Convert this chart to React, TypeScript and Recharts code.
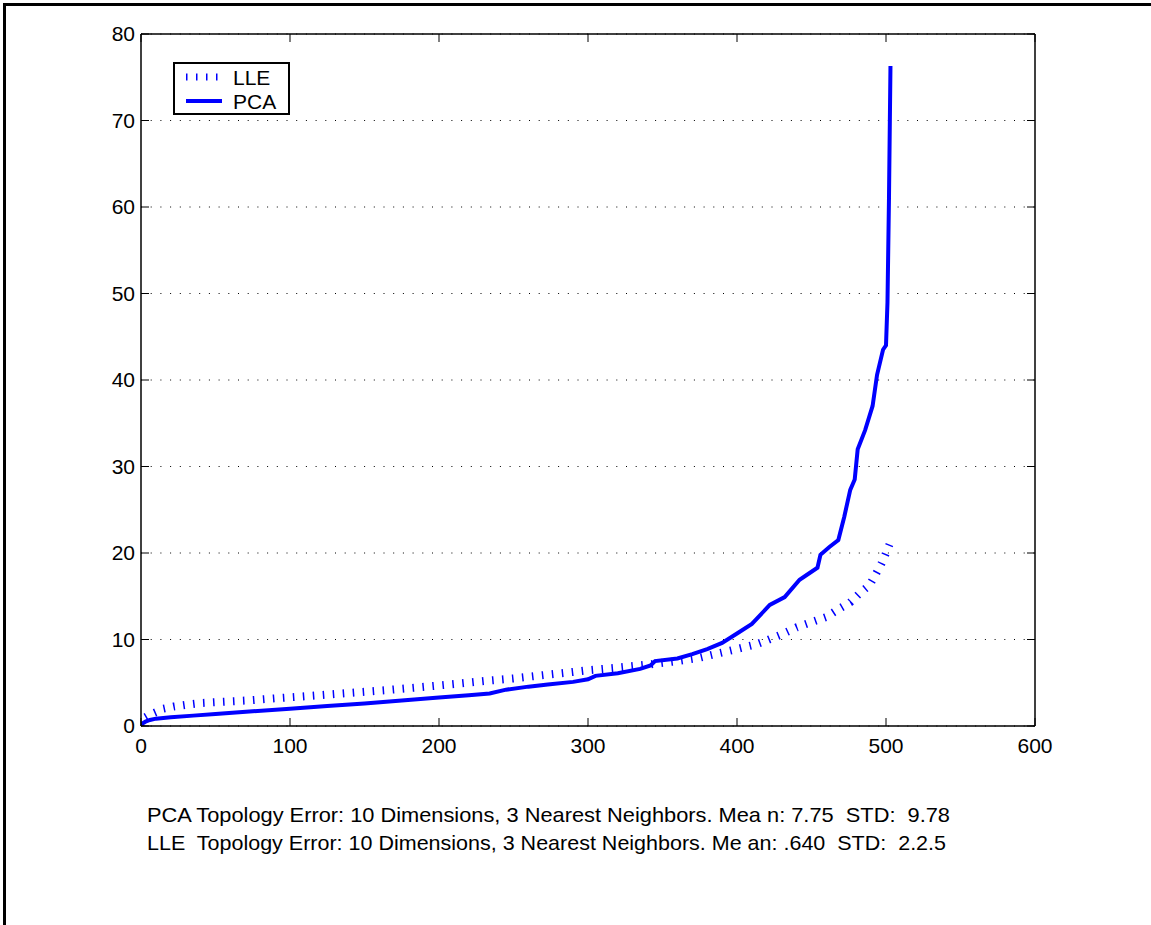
import React from "react";
import { LineChart, Line, XAxis, YAxis, CartesianGrid } from "recharts";

// sorted topology error per sample, PCA vs LLE embedding
const pcaX = [0, 1, 3, 6, 10, 20, 35, 50, 75, 100, 125, 150, 175, 200, 220, 234, 245, 260, 273, 290, 300, 305, 320, 335, 342, 345, 360, 370, 380, 390, 400, 410, 422, 432, 442, 448, 454, 456, 462, 468, 472, 476, 479, 481, 486, 491, 494, 498, 500, 501, 502, 503];
const pcaY = [0, 0.3, 0.5, 0.7, 0.85, 1.0, 1.2, 1.4, 1.7, 2.0, 2.3, 2.6, 2.95, 3.3, 3.55, 3.75, 4.2, 4.55, 4.8, 5.1, 5.4, 5.8, 6.1, 6.6, 7.0, 7.5, 7.8, 8.3, 8.9, 9.6, 10.7, 11.8, 14.0, 14.9, 16.9, 17.6, 18.3, 19.8, 20.7, 21.5, 24.2, 27.3, 28.5, 32.0, 34.2, 37.0, 40.6, 43.5, 44.0, 49.0, 61.0, 76.3];

const lleX = [0, 1, 3, 6, 10, 15, 22, 30, 40, 55, 71, 90, 103, 130, 165, 185, 210, 230, 250, 271, 290, 300, 320, 340, 360, 375, 390, 400, 412, 420, 430, 440, 450, 460, 468, 476, 482, 489, 493, 497, 500, 504];
const lleY = [0, 0.6, 1.0, 1.3, 1.6, 2.0, 2.25, 2.45, 2.65, 2.8, 2.95, 3.2, 3.35, 3.7, 4.15, 4.45, 4.85, 5.2, 5.5, 5.9, 6.25, 6.45, 6.75, 7.1, 7.5, 7.9, 8.5, 8.9, 9.4, 9.9, 10.6, 11.4, 12.0, 12.6, 13.5, 14.3, 15.3, 16.3, 17.5, 18.8, 20.0, 21.7];

const xTicks = [0, 100, 200, 300, 400, 500, 600];
const yTicks = [0, 10, 20, 30, 40, 50, 60, 70, 80];

const captionLines = [
  "PCA Topology Error: 10 Dimensions, 3 Nearest Neighbors. Mea n: 7.75  STD:  9.78",
  "LLE  Topology Error: 10 Dimensions, 3 Nearest Neighbors. Me an: .640  STD:  2.2.5",
];

const pcaData = pcaX.map((x, i) => ({ x, y: pcaY[i] }));
const lleData = lleX.map((x, i) => ({ x, y: lleY[i] }));

const BLUE = "#0000ff";
const FONT = "'Liberation Sans', Arial, Helvetica, sans-serif";
const axisStyle = { stroke: "#000", strokeWidth: 1.5 };

function LegendBox() {
  return (
    <div
      style={{
        position: "absolute",
        left: 173,
        top: 62,
        width: 113,
        height: 49,
        border: "2px solid #000",
        background: "#fff",
      }}
    >
      <svg width={113} height={49} style={{ position: "absolute", left: 0, top: 0 }}>
        <line x1={11} x2={49} y1={13} y2={13} stroke={BLUE} strokeWidth={7} strokeDasharray="1.5 8.5" />
        <line x1={11} x2={47} y1={37} y2={37} stroke={BLUE} strokeWidth={4} />
        <text x={58} y={21} fontSize={21} fontFamily={FONT} fill="#000">LLE</text>
        <text x={58} y={45} fontSize={21} fontFamily={FONT} fill="#000">PCA</text>
      </svg>
    </div>
  );
}

export default function App() {
  return (
    <div style={{ position: "absolute", left: 0, top: 0, width: 1151, height: 925, background: "#fff", overflow: "hidden" }}>
      {/* outer frame, top and left edges */}
      <div style={{ position: "absolute", left: 3, top: 3, width: 1148, height: 3, background: "#000" }} />
      <div style={{ position: "absolute", left: 3, top: 3, width: 3, height: 922, background: "#000" }} />

      <LineChart
        width={1151}
        height={925}
        margin={{ top: 24, right: 106, bottom: 159, left: 81 }}
        style={{ position: "absolute", left: 0, top: 0, fontFamily: FONT }}
      >
        <CartesianGrid vertical={false} stroke="#000" strokeWidth={1} strokeDasharray="1 8.7" />
        <XAxis
          type="number"
          dataKey="x"
          domain={[0, 600]}
          ticks={xTicks}
          height={40}
          tickSize={-8}
          tickMargin={20}
          axisLine={axisStyle}
          tickLine={{ stroke: "#000", strokeWidth: 1 }}
          tick={{ fill: "#000", fontSize: 21 }}
          allowDataOverflow
        />
        <XAxis
          xAxisId="top"
          orientation="top"
          type="number"
          dataKey="x"
          domain={[0, 600]}
          ticks={xTicks}
          height={10}
          tickSize={-8}
          tickFormatter={() => ""}
          axisLine={axisStyle}
          tickLine={{ stroke: "#000", strokeWidth: 1 }}
          allowDataOverflow
        />
        <YAxis
          type="number"
          domain={[0, 80]}
          ticks={yTicks}
          width={60}
          tickSize={-8}
          tickMargin={14}
          axisLine={axisStyle}
          tickLine={{ stroke: "#000", strokeWidth: 1 }}
          tick={{ fill: "#000", fontSize: 21 }}
          allowDataOverflow
        />
        <YAxis
          yAxisId="right"
          orientation="right"
          type="number"
          domain={[0, 80]}
          ticks={yTicks}
          width={10}
          tickSize={-8}
          tickFormatter={() => ""}
          axisLine={axisStyle}
          tickLine={{ stroke: "#000", strokeWidth: 1 }}
          allowDataOverflow
        />
        <Line
          name="LLE"
          data={lleData}
          dataKey="y"
          type="linear"
          stroke={BLUE}
          strokeWidth={8}
          strokeDasharray="1.5 8.5"
          strokeLinejoin="bevel"
          dot={false}
          activeDot={false}
          isAnimationActive={false}
        />
        <Line
          name="PCA"
          data={pcaData}
          dataKey="y"
          type="linear"
          stroke={BLUE}
          strokeWidth={4}
          dot={false}
          activeDot={false}
          isAnimationActive={false}
        />
      </LineChart>

      <LegendBox />

      <svg width={1151} height={925} style={{ position: "absolute", left: 0, top: 0, pointerEvents: "none" }}>
        <text x={147} y={822} fontSize={21} fontFamily={FONT} fill="#000" textLength={803} lengthAdjust="spacingAndGlyphs" style={{ whiteSpace: "pre" }}>
          {captionLines[0]}
        </text>
        <text x={147} y={850} fontSize={21} fontFamily={FONT} fill="#000" textLength={799} lengthAdjust="spacingAndGlyphs" style={{ whiteSpace: "pre" }}>
          {captionLines[1]}
        </text>
      </svg>
    </div>
  );
}
